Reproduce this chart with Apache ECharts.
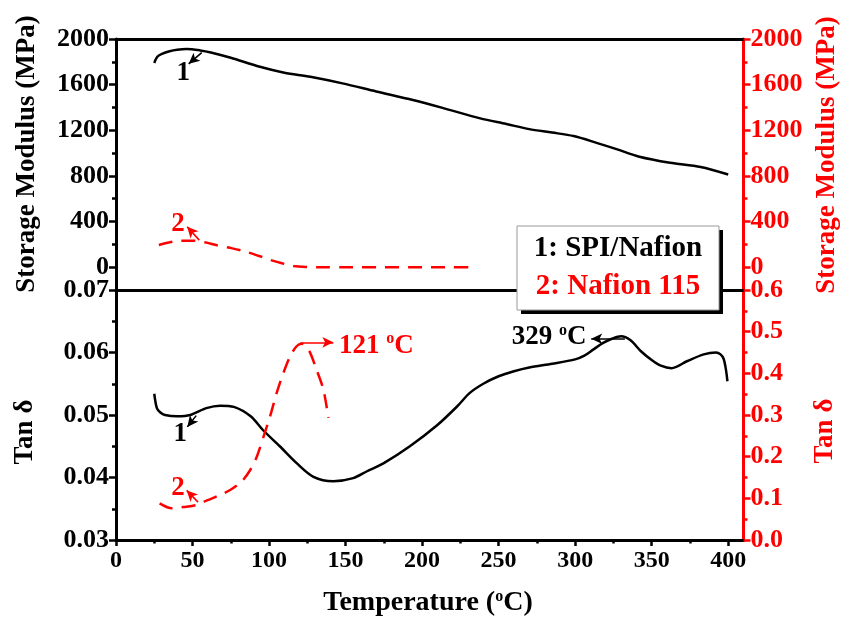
<!DOCTYPE html>
<html><head><meta charset="utf-8">
<script src="https://cdn.jsdelivr.net/npm/echarts@6/dist/echarts.min.js"></script>
<style>html,body{margin:0;padding:0;background:#fff}#c{width:841px;height:618px}</style>
</head><body><div id="c"></div>
<script>
// ---- tick labels ----
const xTicks = [0, 50, 100, 150, 200, 250, 300, 350, 400];
const xMinorTicks = [25, 75, 125, 175, 225, 275, 325, 375];
const modTicks = [0, 400, 800, 1200, 1600, 2000];
const modMinorTicks = [200, 600, 1000, 1400, 1800];
const tanLeftTicks = [0.03, 0.04, 0.05, 0.06, 0.07];
const tanLeftMinor = [0.035, 0.045, 0.055, 0.065];
const tanRightTicks = [0.0, 0.1, 0.2, 0.3, 0.4, 0.5, 0.6];
const tanRightMinor = [0.05, 0.15, 0.25, 0.35, 0.45, 0.55];

// ---- series 1: SPI/Nafion storage modulus (MPa) ----
const spiModT = [25, 27, 30, 35, 40, 46, 55, 62, 75, 94, 110, 127, 148, 170, 194, 215, 238, 255, 270, 285, 299, 314, 327, 342, 362, 382, 400];
const spiModV = [1790, 1845, 1870, 1893, 1906, 1912, 1900, 1882, 1835, 1757, 1705, 1669, 1611, 1540, 1465, 1390, 1304, 1255, 1210, 1180, 1149, 1090, 1035, 968, 915, 878, 812];

// ---- series 2: Nafion 115 storage modulus (MPa) ----
const nafModT = [28, 35, 42, 50, 58, 66, 76, 85, 93, 101, 109, 116, 125, 135, 150, 175, 200, 220, 233];
const nafModV = [195, 218, 232, 232, 218, 192, 165, 135, 100, 62, 32, 10, 2, 0, 0, 0, 0, 0, 0];

// ---- series 1: SPI/Nafion tan delta (left axis) ----
const spiTanT = [25, 26.7, 29, 32, 40, 48.5, 59, 68, 77, 88, 96, 107, 118, 129, 142, 155, 164, 175, 192, 210, 223, 231, 240, 250, 260, 270, 285, 300, 306, 312, 318, 324, 330, 336, 343, 350, 356, 363, 373, 384, 392, 395, 397, 398.5, 399.5];
const spiTanV = [0.0534, 0.0511, 0.0504, 0.0500, 0.0498, 0.0500, 0.0511, 0.0515, 0.0513, 0.0498, 0.0476, 0.0450, 0.0423, 0.0401, 0.0394, 0.0399, 0.0410, 0.0423, 0.0450, 0.0484, 0.0514, 0.0535, 0.0550, 0.0562, 0.0570, 0.0576, 0.0582, 0.0589, 0.0595, 0.0605, 0.0615, 0.0622, 0.0626, 0.0620, 0.0602, 0.0588, 0.0579, 0.0575, 0.0586, 0.0597, 0.0600, 0.0597, 0.0590, 0.0573, 0.0554];

// ---- series 2: Nafion 115 tan delta (right axis) ----
const nafTanT = [28.5, 36.5, 44, 52.8, 59.4, 68, 74.6, 82, 87.7, 92, 96.4, 100.7, 105, 109.4, 113.8, 118, 121.4, 125.8, 131, 135.5, 138.8];
const nafTanV = [0.088, 0.076, 0.079, 0.084, 0.095, 0.108, 0.120, 0.140, 0.168, 0.200, 0.248, 0.297, 0.353, 0.401, 0.441, 0.465, 0.471, 0.457, 0.409, 0.361, 0.293];

const FONT = 'Liberation Serif';
const RED = '#ff0000';
const pairs = (t, v) => t.map((x, i) => [x, v[i]]);

function axisBase(color) {
  return { onZero: false, lineStyle: { color: color, width: 3 } };
}
function yMain(grid, pos, min, max, color, ticks, fmt) {
  return {
    type: 'value', gridIndex: grid, position: pos, min: min, max: max,
    axisLine: { show: true, ...axisBase(color) },
    axisTick: { show: true, customValues: ticks, length: 7, lineStyle: { color: color, width: 2.5 } },
    axisLabel: { show: true, customValues: ticks, margin: 7, color: color, fontFamily: FONT, fontWeight: 'bold', fontSize: 26, formatter: fmt },
    splitLine: { show: false }
  };
}
function yMinor(grid, pos, min, max, color, ticks) {
  return {
    type: 'value', gridIndex: grid, position: pos, min: min, max: max,
    axisLine: { show: false, onZero: false },
    axisTick: { show: true, customValues: ticks, length: 4, lineStyle: { color: color, width: 2.5 } },
    axisLabel: { show: false },
    splitLine: { show: false }
  };
}

const chart = echarts.init(document.getElementById('c'), null, { renderer: 'canvas' });

const arrowLine = (color) => ({
  silent: true, symbol: ['none', 'arrow'], symbolSize: [8, 11],
  lineStyle: { color: color, width: 1.6, type: 'solid' },
  label: { show: false }, emphasis: { disabled: true }
});
const textMark = (color) => ({
  silent: true, symbol: 'rect', symbolSize: 1,
  itemStyle: { color: 'rgba(0,0,0,0)' },
  label: {
    show: true, color: color, fontFamily: FONT, fontWeight: 'bold', fontSize: 27,
    formatter: p => p.name,
    rich: {
      a: { color: color, fontFamily: FONT, fontWeight: 'bold', fontSize: 27 },
      s: { color: color, fontFamily: FONT, fontWeight: 'bold', fontSize: 16, padding: [0, 0, 14, 0] }
    }
  }
});

const option = {
  animation: false,
  backgroundColor: '#fff',
  grid: [
    { left: 116, right: 97.5, top: 39, height: 251 },
    { left: 116, right: 97.5, top: 290, height: 250 }
  ],
  xAxis: [
    { type: 'value', gridIndex: 0, min: 0, max: 410, position: 'bottom', axisLine: { show: true, ...axisBase('#000') }, axisTick: { show: false }, axisLabel: { show: false }, splitLine: { show: false } },
    { type: 'value', gridIndex: 0, min: 0, max: 410, position: 'top', axisLine: { show: true, ...axisBase('#000') }, axisTick: { show: false }, axisLabel: { show: false }, splitLine: { show: false } },
    { type: 'value', gridIndex: 1, min: 0, max: 410, position: 'bottom', axisLine: { show: true, ...axisBase('#000') },
      axisTick: { show: true, customValues: xTicks, length: 6, lineStyle: { color: '#000', width: 2.5 } },
      axisLabel: { show: true, customValues: xTicks, margin: 9, color: '#000', fontFamily: FONT, fontWeight: 'bold', fontSize: 24 },
      splitLine: { show: false } },
    { type: 'value', gridIndex: 1, min: 0, max: 410, position: 'bottom', axisLine: { show: false, onZero: false },
      axisTick: { show: true, customValues: xMinorTicks, length: 3.5, lineStyle: { color: '#000', width: 2.5 } },
      axisLabel: { show: false }, splitLine: { show: false } }
  ],
  yAxis: [
    yMain(0, 'left', -200, 2000, '#000', modTicks, v => String(v)),
    yMinor(0, 'left', -200, 2000, '#000', modMinorTicks),
    yMain(0, 'right', -200, 2000, RED, modTicks, v => String(v)),
    yMinor(0, 'right', -200, 2000, RED, modMinorTicks),
    yMain(1, 'left', 0.03, 0.07, '#000', tanLeftTicks, v => v.toFixed(2)),
    yMinor(1, 'left', 0.03, 0.07, '#000', tanLeftMinor),
    yMain(1, 'right', 0, 0.6, RED, tanRightTicks, v => v.toFixed(1)),
    yMinor(1, 'right', 0, 0.6, RED, tanRightMinor)
  ],
  series: [
    {
      name: 'SPI/Nafion E\'', type: 'line', xAxisIndex: 0, yAxisIndex: 0, data: pairs(spiModT, spiModV),
      smooth: 0.3, symbol: 'none', lineStyle: { color: '#000', width: 2.5 }, z: 5,
      markLine: { ...arrowLine('#000'), data: [[{ coord: [56, 1880] }, { coord: [47.5, 1782] }]] },
      markPoint: { ...textMark('#000'), data: [{ name: '1', coord: [43.9, 1702] }] }
    },
    {
      name: 'Nafion 115 E\'', type: 'line', xAxisIndex: 0, yAxisIndex: 2, data: pairs(nafModT, nafModV),
      smooth: 0.3, symbol: 'none', lineStyle: { color: RED, width: 2.5, type: [14, 9] }, z: 5,
      markLine: { ...arrowLine(RED), data: [[{ coord: [54.4, 237] }, { coord: [46.5, 355] }]] },
      markPoint: { ...textMark(RED), data: [{ name: '2', coord: [40.5, 380] }] }
    },
    {
      name: 'SPI/Nafion tan', type: 'line', xAxisIndex: 2, yAxisIndex: 4, data: pairs(spiTanT, spiTanV),
      smooth: 0.3, symbol: 'none', lineStyle: { color: '#000', width: 2.5 }, z: 5,
      markLine: { ...arrowLine('#000'), data: [
        [{ coord: [52.4, 0.0499] }, { coord: [46.6, 0.0481] }],
        [{ coord: [332.5, 0.0622] }, { coord: [310.5, 0.0622] }]
      ] },
      markPoint: { ...textMark('#000'), data: [
        { name: '1', coord: [42, 0.0470] },
        { name: '{a|329 }{s|o}{a|C}', coord: [309, 0.0624], label: { position: 'left', distance: 2 } }
      ] }
    },
    {
      name: 'Nafion 115 tan', type: 'line', xAxisIndex: 2, yAxisIndex: 6, data: pairs(nafTanT, nafTanV),
      smooth: 0.3, symbol: 'none', lineStyle: { color: RED, width: 2.5, type: [14, 9] }, z: 5,
      markLine: { ...arrowLine(RED), data: [
        [{ coord: [53.6, 0.091] }, { coord: [46.2, 0.119] }],
        [{ coord: [120.4, 0.4745] }, { coord: [142, 0.4745] }]
      ] },
      markPoint: { ...textMark(RED), data: [
        { name: '2', coord: [40.5, 0.125] },
        { name: '{a|121 }{s|o}{a|C}', coord: [144, 0.466], label: { position: 'right', distance: 2 } }
      ] }
    }
  ],
  graphic: [
    { type: 'text', x: 27, y: 154, rotation: Math.PI / 2, z: 100,
      style: { text: 'Storage Modulus (MPa)', fill: '#000', font: 'bold 27px "Liberation Serif"', align: 'center', verticalAlign: 'middle' } },
    { type: 'text', x: 827, y: 155, rotation: Math.PI / 2, z: 100,
      style: { text: 'Storage Modulus (MPa)', fill: RED, font: 'bold 27px "Liberation Serif"', align: 'center', verticalAlign: 'middle' } },
    { type: 'text', x: 25, y: 432, rotation: Math.PI / 2, z: 100,
      style: { text: 'Tan δ', fill: '#000', font: 'bold 27px "Liberation Serif"', align: 'center', verticalAlign: 'middle' } },
    { type: 'text', x: 825, y: 431, rotation: Math.PI / 2, z: 100,
      style: { text: 'Tan δ', fill: RED, font: 'bold 27px "Liberation Serif"', align: 'center', verticalAlign: 'middle' } },
    { type: 'text', x: 428, y: 603, z: 100,
      style: { text: '{a|Temperature (}{s|o}{a|C)}', align: 'center', verticalAlign: 'middle',
        rich: { a: { fill: '#000', font: 'bold 28px "Liberation Serif"' }, s: { fill: '#000', font: 'bold 16px "Liberation Serif"', padding: [0, 0, 13, 0] } } } },
    { type: 'rect', zlevel: 1, z: 100, shape: { x: 521, y: 230, width: 202, height: 84 }, style: { fill: '#000' } },
    { type: 'rect', zlevel: 1, z: 101, shape: { x: 517, y: 226, width: 202, height: 84 }, style: { fill: '#fff', stroke: '#999', lineWidth: 1 } },
    { type: 'text', zlevel: 1, z: 102, x: 618, y: 249, style: { text: '1: SPI/Nafion', fill: '#000', font: 'bold 29px "Liberation Serif"', align: 'center', verticalAlign: 'middle' } },
    { type: 'text', zlevel: 1, z: 102, x: 618, y: 287, style: { text: '2: Nafion 115', fill: RED, font: 'bold 29px "Liberation Serif"', align: 'center', verticalAlign: 'middle' } }
  ]
};
chart.setOption(option);
</script>
</body></html>
